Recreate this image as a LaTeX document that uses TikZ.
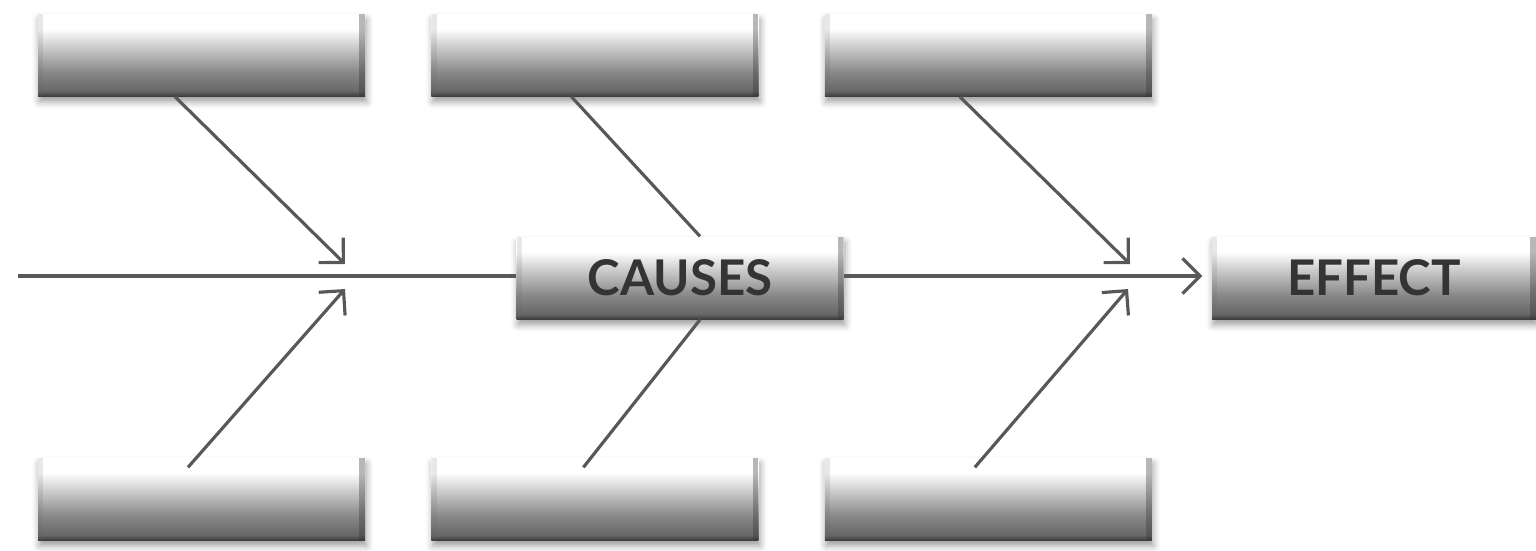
\documentclass[tikz,border=0pt]{standalone}
\usepackage{fontspec}
\usepackage{tikz}
\usetikzlibrary{arrows.meta, positioning, calc, shadows.blur}
\newfontfamily\boxfont{Lato}
\definecolor{bonegray}{RGB}{88,88,88}
\definecolor{textgray}{RGB}{52,52,52}
\pgfdeclareverticalshading{boxshade}{100bp}{color(0bp)=(black!76); color(25bp)=(black!76);
  color(28bp)=(black!60); color(40bp)=(black!46); color(55bp)=(black!20); color(66bp)=(white);
  color(100bp)=(white)}

\begin{document}
\begin{tikzpicture}[node distance=0.65cm,
  bar/.style={
    rectangle, shade, shading=boxshade,
    minimum width=3.27cm, minimum height=0.82cm, inner sep=0pt,
    font=\boxfont\bfseries\fontsize{14}{16}\selectfont, text=textgray,
    blur shadow={shadow xshift=0.4pt, shadow yshift=-1.6pt, shadow blur radius=2pt},
    path picture={
      \fill[black!80, opacity=0.35] ([xshift=-1.6pt]path picture bounding box.north east)
        rectangle (path picture bounding box.south east);
      \fill[black!60, opacity=0.15] (path picture bounding box.north west)
        rectangle ([xshift=1.5pt]path picture bounding box.south west);
    }
  },
  bone/.style={line width=0.9pt, draw=bonegray},
  arr/.style={bone, -{Straight Barb[length=5pt, width=10pt, line width=0.9pt]}}
]
  \useasboundingbox (0,0) rectangle (15.36,5.5);

  % boxes
  \node[bar] (tb1) at (2.015,4.95) {};
  \node[bar, right=of tb1] (tb2) {};
  \node[bar, right=of tb2] (tb3) {};
  \node[bar] (bb1) at (2.015,0.51) {};
  \node[bar, right=of bb1] (bb2) {};
  \node[bar, right=of bb2] (bb3) {};
  \node[bar] (causes) at (6.80,2.72) {CAUSES};
  \node[bar, minimum width=3.24cm] (effect) at (13.74,2.72) {EFFECT};

  % spine
  \coordinate (tail) at (0.18,2.74);
  \coordinate (ja1) at (3.45,2.86);
  \coordinate (jb1) at (3.45,2.61);
  \coordinate (ja3) at (11.30,2.86);
  \coordinate (jb3) at (11.28,2.61);
  \draw[bone] (tail) -- (tail -| causes.west);
  \draw[arr, shorten >=0.09cm] (causes.east |- tail) -- (tail -| effect.west);

  % bones
  \draw[arr] ($(tb1.south)+(-0.265,0)$) -- (ja1);
  \draw[arr] ($(bb1.north)+(-0.135,-0.1)$) -- (jb1);
  \draw[bone] ($(tb2.south)+(-0.235,0)$) -- ($(causes.north)+(0.2,0)$);
  \draw[bone] ($(bb2.north)+(-0.115,-0.1)$) -- ($(causes.south)+(0.2,0)$);
  \draw[arr] ($(tb3.south)+(-0.285,0)$) -- (ja3);
  \draw[arr] ($(bb3.north)+(-0.135,-0.1)$) -- (jb3);
\end{tikzpicture}
\end{document}
